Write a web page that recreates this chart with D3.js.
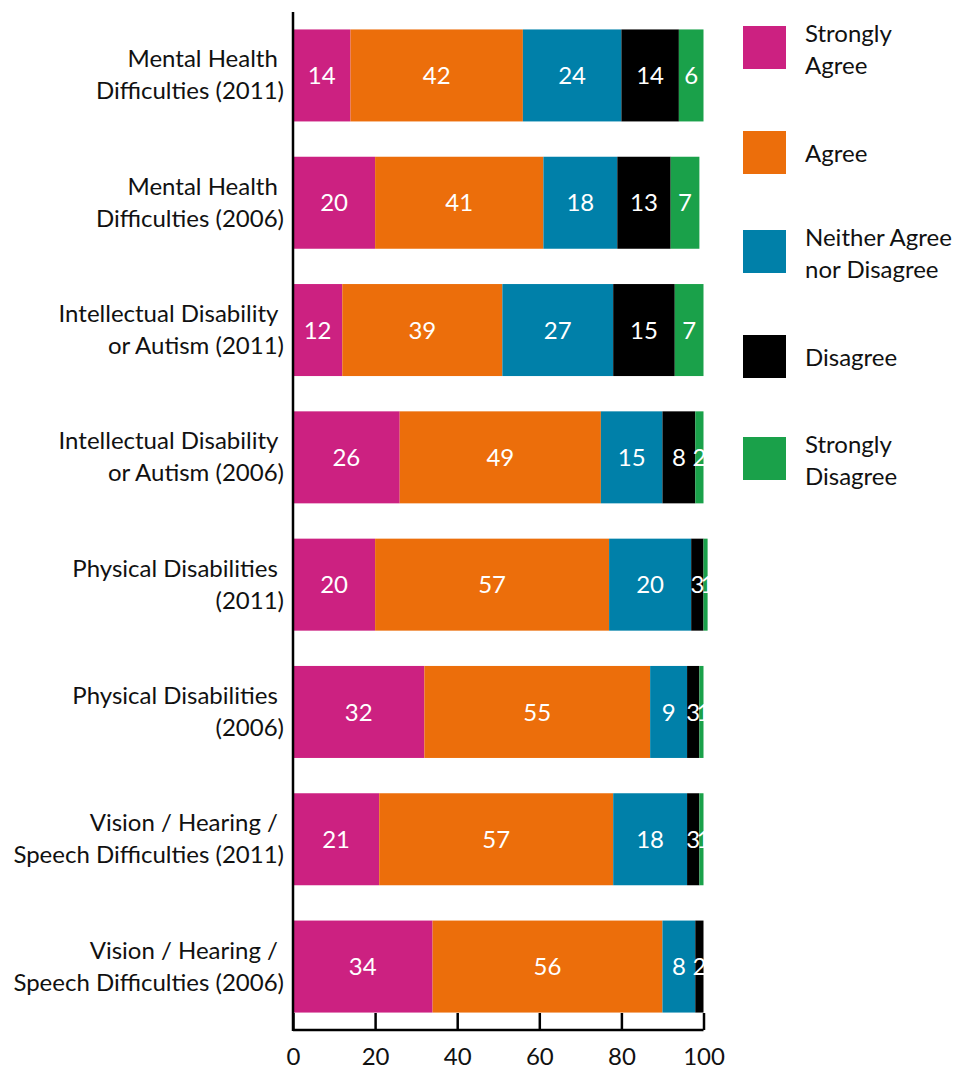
<!DOCTYPE html>
<html>
<head>
<meta charset="utf-8">
<script src="https://cdn.jsdelivr.net/npm/d3@7"></script>
<style>
html,body{margin:0;padding:0;background:#fff;}
text{font-family:Lato,"Open Sans",sans-serif;}
</style>
</head>
<body>
<svg id="chart" width="966" height="1070"></svg>
<script>
const categories = [
  ["Mental Health ", "Difficulties (2011)"],
  ["Mental Health ", "Difficulties (2006)"],
  ["Intellectual Disability ", "or Autism (2011)"],
  ["Intellectual Disability ", "or Autism (2006)"],
  ["Physical Disabilities ", "(2011)"],
  ["Physical Disabilities ", "(2006)"],
  ["Vision / Hearing / ", "Speech Difficulties (2011)"],
  ["Vision / Hearing / ", "Speech Difficulties (2006)"]
];
const seriesNames = [["Strongly", "Agree"], ["Agree"], ["Neither Agree", "nor Disagree"], ["Disagree"], ["Strongly", "Disagree"]];
const seriesColors = ["#cc2181", "#ec6e0b", "#0080a9", "#000000", "#1aa14a"];
const stronglyAgree    = [14, 20, 12, 26, 20, 32, 21, 34];
const agree            = [42, 41, 39, 49, 57, 55, 57, 56];
const neither          = [24, 18, 27, 15, 20, 9, 18, 8];
const disagree         = [14, 13, 15, 8, 3, 3, 3, 2];
const stronglyDisagree = [6, 7, 7, 2, 1, 1, 1, 0];
const xTicks = [0, 20, 40, 60, 80, 100];

const series = [stronglyAgree, agree, neither, disagree, stronglyDisagree];
const svg = d3.select("#chart");
const FS = 24;

const x = d3.scaleLinear().domain([0, 100]).range([293, 703.5]);
const y = d3.scaleBand().domain(d3.range(categories.length)).range([12, 1030])
  .paddingInner(0.2773).paddingOuter(0.137);

const rows = categories.map((c, i) => {
  let acc = 0;
  return series.map((s, k) => { const v = s[i]; const seg = {k, v, x0: acc, x1: acc + v}; acc += v; return seg; });
});

const g = svg.append("g");
rows.forEach((segs, i) => {
  const row = g.append("g");
  row.selectAll("rect").data(segs.filter(d => d.v > 0)).join("rect")
    .attr("x", d => x(d.x0)).attr("width", d => x(d.x1) - x(d.x0))
    .attr("y", y(i)).attr("height", y.bandwidth())
    .attr("fill", d => seriesColors[d.k]);
  row.selectAll("text").data(segs.filter(d => d.v > 0)).join("text")
    .attr("x", d => (x(d.x0) + x(d.x1)) / 2 + (d.v === 1 ? 2 : 0))
    .attr("y", y(i) + y.bandwidth() / 2)
    .attr("dy", "0.36em")
    .attr("text-anchor", "middle")
    .attr("fill", "#fff")
    .attr("font-size", FS)
    .text(d => d.v);
});

// category labels
categories.forEach((lines, i) => {
  const cy = y(i) + y.bandwidth() / 2;
  const t = svg.append("text").attr("text-anchor", "end").attr("font-size", FS)
    .attr("fill", "#111").style("white-space", "pre");
  lines.forEach((ln, j) => {
    t.append("tspan").attr("x", 284).attr("y", cy - 8 + j * 32).text(ln);
  });
});

// axes
svg.append("line").attr("x1", 293).attr("x2", 293).attr("y1", 12).attr("y2", 1031)
  .attr("stroke", "#000").attr("stroke-width", 2.5);
const xAxis = svg.append("g").attr("transform", "translate(0,1030)")
  .call(d3.axisBottom(x).tickValues(xTicks).tickSize(-17).tickPadding(33).tickFormat(d3.format("d")));
xAxis.select(".domain").attr("stroke", "#000").attr("stroke-width", 2.5)
  .attr("d", `M${x(0)},0H${x(100)}`);
xAxis.selectAll(".tick line").attr("stroke", "#000").attr("stroke-width", 2.5);
xAxis.selectAll(".tick text").attr("font-size", FS).attr("fill", "#111")
  .attr("font-family", "Lato, sans-serif").attr("dy", "0.1em");

// legend
const legY = [26, 131, 230, 335, 437];
seriesNames.forEach((lines, k) => {
  const lg = svg.append("g");
  lg.append("rect").attr("x", 743).attr("y", legY[k]).attr("width", 43).attr("height", 43)
    .attr("fill", seriesColors[k]);
  const cy = legY[k] + 21.5;
  const t = lg.append("text").attr("font-size", FS).attr("fill", "#111");
  lines.forEach((ln, j) => {
    const by = lines.length === 1 ? cy + 9 : cy - 6 + j * 32;
    t.append("tspan").attr("x", 805).attr("y", by).text(ln);
  });
});
</script>
</body>
</html>
